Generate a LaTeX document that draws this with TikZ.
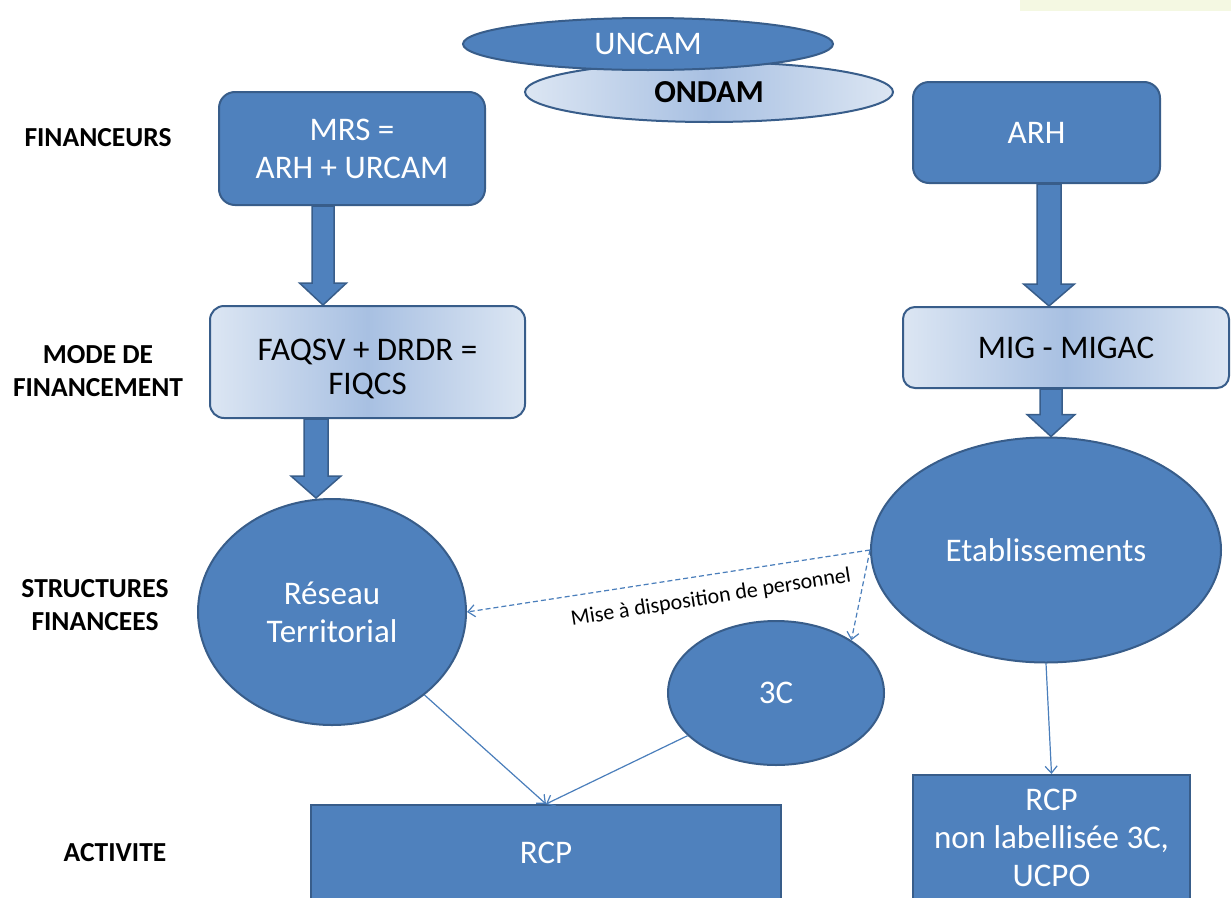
\documentclass[tikz,border=0pt]{standalone}
\usepackage{fontspec}
\setmainfont{Carlito}
\usetikzlibrary{shapes.geometric,arrows.meta,calc}
\definecolor{fillblue}{HTML}{4F81BD}
\definecolor{edgeblue}{HTML}{385D8A}
\definecolor{lightL}{HTML}{DCE6F3}
\definecolor{lightM}{HTML}{A8C0E2}
\definecolor{lineblue}{HTML}{4A7EBB}
\definecolor{paleyellow}{HTML}{F4F8E2}
\newcommand\fatarrow[5]{%
  \path[fatarr] let \p1=(#1,0 |- #2.south), \p2=(#1,0 |- #3.north) in
  (\x1-#4pt,\y1) -- (\x1-#4pt,\y2+22pt) -- (\x1-#5pt,\y2+22pt) -- (\x1,\y2)
  -- (\x1+#5pt,\y2+22pt) -- (\x1+#4pt,\y2+22pt) -- (\x1+#4pt,\y1) -- cycle;}
\begin{document}
\begin{tikzpicture}[x=1pt,y=-1pt,
  darkbox/.style={draw=edgeblue,line width=2pt,fill=fillblue,text=white,
    font=\fontsize{33}{38}\selectfont,align=center,inner sep=0pt},
  lightbox/.style={draw=edgeblue,line width=2pt,left color=lightL,right color=lightL,
    middle color=lightM,text=black,font=\fontsize{33}{34}\selectfont,align=center,inner sep=0pt},
  darkell/.style={darkbox,ellipse},
  lightell/.style={lightbox,ellipse},
  boxtext/.style={text=black,font=\fontsize{33}{34}\selectfont,align=center,inner sep=0pt},
  rowlabel/.style={text=black,font=\fontsize{27.5}{33}\selectfont\bfseries,align=center,inner sep=0pt},
  fatarr/.style={fill=fillblue,draw=edgeblue,line width=1.5pt,line join=miter},
  thinarr/.style={draw=lineblue,line width=1.2pt,-{Straight Barb[length=7pt,width=12pt]}},
  dasharr/.style={thinarr,dash pattern=on 5pt off 3pt},
  smalltext/.style={text=black,font=\fontsize{22}{26}\selectfont,inner sep=0pt}
]
\useasboundingbox (0,0) rectangle (1231,897);
\fill[paleyellow] (1020,0) rectangle (1231,11);

% top ellipses
\node[lightell,minimum width=368pt,minimum height=60pt,font=\fontsize{32}{36}\selectfont\bfseries] (ondam) at (709,92) {ONDAM};
\node[darkell,minimum width=370pt,minimum height=52pt,font=\fontsize{33}{36}\selectfont] (uncam) at (648,44) {UNCAM};

% row labels
\node[rowlabel] (lfin) at (98,138) {FINANCEURS};
\node[rowlabel] (lmode) at (98,371) {MODE DE\\FINANCEMENT};
\node[rowlabel] (lstruct) at (95,605) {STRUCTURES\\FINANCEES};
\node[rowlabel] (lact) at (115,853) {ACTIVITE};

% boxes
\node[darkbox,rounded corners=16pt,minimum width=266pt,minimum height=113pt] (mrs) at (352,148.5) {MRS =\\ARH + URCAM};
\node[darkbox,rounded corners=16pt,minimum width=247pt,minimum height=101pt] (arh) at (1036.5,132.5) {ARH};
\node[lightbox,rounded corners=14pt,minimum width=315pt,minimum height=112pt] (faq) at (367.5,362) {};
\node[boxtext] (faqtext) at (367.5,369) {FAQSV + DRDR =\\FIQCS};
\node[lightbox,rounded corners=12pt,minimum width=326pt,minimum height=81pt] (mig) at (1066,347.5) {MIG - MIGAC};

% ellipses
\node[darkell,minimum width=268pt,minimum height=226pt] (res) at (332,612) {Réseau\\Territorial};
\node[darkell,minimum width=350pt,minimum height=225pt] (eta) at (1046,550) {Etablissements};
\node[darkell,minimum width=216pt,minimum height=144pt] (c3) at (776,693) {3C};

% bottom boxes
\node[darkbox,minimum width=470pt,minimum height=96pt] (rcp) at (546,853) {RCP};
\node[darkbox,minimum width=277pt,minimum height=126pt] (rcp2) at (1051.5,838) {RCP\\non labellisée 3C,\\UCPO};

% fat arrows
\fatarrow{323}{mrs}{faq}{11}{23.5}
\fatarrow{316}{faq}{res}{12}{25}
\fatarrow{1049}{arh}{mig}{12}{25.5}
\fatarrow{1051}{mig}{eta}{11}{24}

% thin arrows
\draw[thinarr] (res) -- (rcp.north);
\draw[thinarr] (c3) -- (rcp.north);
\draw[thinarr] (eta.south) -- (rcp2.north);

% dashed arrows
\draw[dasharr] (eta.west) -- (res.east);
\draw[dasharr] (eta.west) -- (c3.35);
\node[smalltext,rotate=9] (mise) at (711,598) {Mise à disposition de personnel};
\end{tikzpicture}
\end{document}
